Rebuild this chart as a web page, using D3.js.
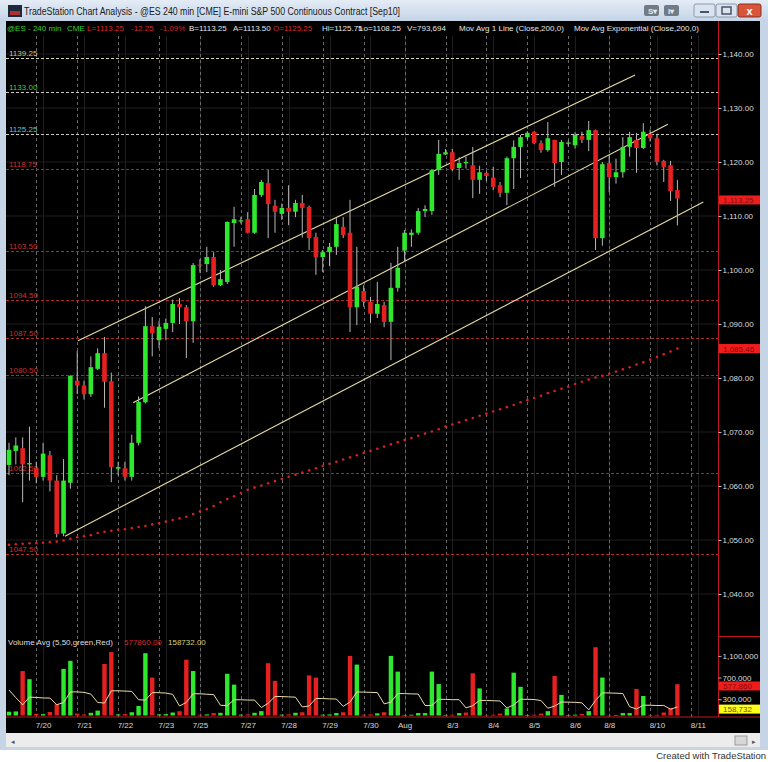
<!DOCTYPE html>
<html><head><meta charset="utf-8">
<script src="https://cdn.jsdelivr.net/npm/d3@7"></script>
<style>
body{margin:0;background:#fff;}
svg{display:block;font-family:"Liberation Sans",Arial,sans-serif;}
</style></head><body>
<svg id="c" width="768" height="762"></svg>
<script>
// ---------------- DATA ----------------
const opens  = [1063.9,1066.5,1067,1064,1063.3,1061.7,1065.7,1061,1051.2,1060.6,
 1079.5,1078.6,1077,1081.7,1084.6,1079.4,1063.2,1063.3,1061.7,1068,
 1075.5,1089.6,1087,1089.1,1090.2,1093.7,1093.1,1090.5,1101,1101.1,
 1102.4,1097.2,1097.8,1108.7,1109.1,1109.4,1106.9,1113.9,1116.1,1111.9,
 1110.4,1111.5,1110.8,1112.4,1111.7,1106.1,1102.4,1103.3,1104.3,1108,
 1106.9,1093.1,1096.1,1094.1,1091.9,1093.5,1090.4,1096.7,1103.6,1106.5,
 1106.9,1110.9,1110.9,1118.5,1121.4,1121.8,1118.9,1119.8,1119.4,1116.7,
 1118,1117.1,1115.7,1114.3,1120.7,1122.8,1124.6,1125.6,1123.5,1122.2,
 1124.1,1120,1123.5,1123.1,1124.8,1124.1,1125.9,1105.9,1119.8,1117.2,
 1118.1,1122.8,1124.1,1122.6,1125.2,1124.4,1120.2,1119.4,1114.8];
const highs  = [1068,1069,1069,1071,1064.5,1068,1066.5,1062,1065,1080.5,
 1085,1079.5,1084,1085.5,1087.6,1081,1064.5,1064.5,1069.5,1076.6,
 1093.3,1091.3,1090.6,1091,1094.5,1094.8,1093.5,1101.3,1102,1104.3,
 1103.3,1100,1109,1111.7,1109.8,1110.7,1115,1116.7,1118.5,1113,
 1112.3,1115.7,1113,1113.9,1111.9,1106.9,1103.7,1105,1109.6,1109.8,
 1113,1104.3,1097.2,1095,1097.8,1094.1,1101.3,1104.3,1107.4,1107.5,
 1111.5,1112,1118.6,1124.1,1122.4,1122.4,1120.9,1121,1122.8,1119.3,
 1118.3,1119.1,1116.3,1121,1124,1125,1125.7,1125.7,1124,1127.4,
 1124.1,1124.1,1124,1125.5,1125.6,1127.6,1126,1120,1121.3,1120.6,
 1124.6,1125.6,1125.4,1127.2,1126,1125,1120.4,1120.2,1116.7];
const lows   = [1062,1064,1057,1061,1060.5,1061,1059,1050.5,1050.7,1059.5,
 1077,1076,1076.5,1081.5,1074.5,1060.7,1062,1061,1061,1067.5,
 1075.3,1084,1085.5,1087,1088.5,1090,1083.7,1086.5,1099.5,1099.6,
 1096.9,1097,1097.4,1104.3,1108.6,1106.8,1106.7,1113.5,1105.9,1106.9,
 1109.3,1108.3,1109.8,1106,1103.7,1099.1,1099.6,1100.7,1102.8,1105.9,
 1088.5,1089.8,1093.2,1090.2,1091.1,1089.4,1083.3,1096,1101.5,1104.3,
 1106.5,1109.8,1110.2,1117.6,1121.3,1118.3,1116.7,1118.8,1113.3,1114.1,
 1116.5,1114.8,1113.5,1112,1115,1117,1124.2,1123.3,1121.7,1121.9,
 1115.4,1117.6,1122.9,1122.5,1123.5,1122,1103.7,1104.5,1114.4,1116,
 1117.1,1121,1118,1122.4,1123.8,1119.4,1116.3,1112.8,1108.25];
const closes = [1066.7,1067.5,1064,1064.25,1061.7,1066,1061,1051.1,1061,1080.4,
 1078.6,1077,1082,1084.6,1079.3,1063.5,1063.5,1061.7,1068,1075.6,
 1089.6,1088.3,1089.5,1090.2,1093.7,1093.1,1090.5,1100.9,1100.8,1102.4,
 1097.2,1098.3,1108.9,1109.4,1109.2,1106.9,1113.9,1116.3,1112.2,1110.8,
 1111.5,1110.8,1112.4,1111.5,1105.9,1102.4,1103.3,1104.3,1108.5,1106.5,
 1093.1,1096.9,1094.1,1091.9,1093.7,1090.4,1096.7,1100.4,1106.9,1106.9,
 1110.9,1111.3,1118.5,1121.5,1121.8,1118.7,1119.8,1120,1116.7,1118.1,
 1117.4,1115.4,1114.3,1120.7,1122.8,1124.6,1125.4,1123.5,1122.2,1124.4,
 1119.8,1123.7,1123.6,1125,1124.1,1125.9,1105.9,1119.6,1117.2,1118.1,
 1122.8,1124.6,1122.6,1125.6,1124.4,1120,1119.1,1114.6,1113.25];

const emaValues = [1049.1,1049.2,1049.3,1049.4,1049.4,1049.5,1049.6,1049.7,1049.9,1050.2,
 1050.5,1050.7,1050.9,1051.3,1051.5,1051.7,1051.9,1052.0,1052.2,1052.4,
 1052.6,1052.9,1053.1,1053.4,1053.7,1054.0,1054.3,1054.8,1055.3,1055.7,
 1056.3,1057.0,1057.6,1058.1,1058.7,1059.3,1059.7,1060.1,1060.5,1060.9,
 1061.3,1061.7,1062.1,1062.5,1062.9,1063.3,1063.7,1064.1,1064.5,1064.9,
 1065.3,1065.7,1066.1,1066.5,1066.9,1067.3,1067.7,1068.1,1068.5,1068.9,
 1069.3,1069.7,1070.1,1070.5,1071.0,1071.4,1071.8,1072.2,1072.6,1073.0,
 1073.4,1073.8,1074.2,1074.6,1075.0,1075.5,1075.9,1076.3,1076.7,1077.2,
 1077.6,1078.0,1078.4,1078.9,1079.3,1079.7,1080.1,1080.4,1080.8,1081.2,
 1081.6,1082.0,1082.5,1082.9,1083.4,1083.9,1084.4,1084.9,1085.46];

const volumes = [70000,75000,820000,670000,30000,25000,65000,210000,860000,1010000,
 35000,20000,50000,90000,950000,1170000,20000,25000,60000,175000,
 1150000,700000,20000,25000,55000,80000,1030000,820000,15000,20000,
 45000,50000,770000,570000,15000,20000,50000,80000,965000,640000,
 15000,20000,50000,60000,740000,700000,15000,20000,45000,60000,
 1100000,940000,15000,20000,40000,60000,1100000,810000,10000,15000,
 45000,45000,810000,580000,10000,15000,45000,55000,780000,500000,
 10000,15000,35000,130000,790000,530000,10000,15000,35000,80000,
 730000,380000,10000,15000,30000,80000,1260000,700000,10000,10000,
 45000,45000,490000,360000,12000,12000,55000,135000,577860];
const volumeUp = [1,1,0,1,0,1,0,0,1,1, 0,0,1,1,0,0,1,0,1,1, 1,0,1,1,1,0,0,1,0,1,
 0,1,1,1,1,0,1,1,0,0, 1,0,1,0,0,0,1,1,1,0, 0,1,0,0,1,0,1,1,1,1,
 1,1,1,1,1,0,1,0,0,1, 0,0,0,1,1,1,1,0,0,1, 0,1,1,1,0,1,0,1,0,1,
 1,1,0,1,0,0,0,0,0];
const volumeAvg = [470000,330000,195000,340000,333000,324000,322000,200000,238000,434000,
 436000,427000,395000,241000,229000,456000,456000,451000,445000,290000,
 286000,422000,421000,414000,390000,176000,242000,402000,400000,393000,
 386000,190000,180000,291000,290000,285000,285000,147000,226000,351000,
 350000,344000,338000,157000,177000,314000,313000,307000,304000,168000,
 248000,433000,432000,427000,423000,215000,247000,406000,404000,399000,
 396000,185000,185000,299000,298000,292000,292000,141000,181000,279000,
 278000,272000,268000,138000,196000,300000,299000,295000,276000,134000,
 174000,248000,247000,243000,233000,103000,279000,417000,416000,412000,
 405000,162000,120000,190000,190000,184000,186000,115000,158732];

const dateLabels = ["7/20","7/21","7/22","7/23","7/25","7/27","7/28","7/29","7/30","Aug","8/3","8/4","8/5","8/6","8/8","8/10","8/11"];
const dateBarIndex = [5,11,17,23,28,35,41,47,53,58,65,71,77,83,88,95,101];
const gridBarIndex = [4,10,16,22,28,34,40,46,52,58,64,70,76,82,88,94,100];

const levelPrices = [1139.25,1133.00,1125.25,1118.75,1103.50,1094.50,1087.50,1080.50,1062.50,1047.50];
const levelKinds  = ["khaki","green","cyan","red","red","red","red","red","red","red"];

const priceTicks = [1040,1050,1060,1070,1080,1090,1100,1110,1120,1130,1140];
const volumeTicks = [300000,700000,1100000];

// channel lines: [bar index, price] endpoints
const channelStartIdx = [10.1, 18.2, 8.2];
const channelStartPx  = [1086.9, 1075.4, 1050.7];
const channelEndIdx   = [91.8, 96.6, 101.8];
const channelEndPx    = [1136.1, 1127.0, 1112.6];

const lastClose = 1113.25, lastEma = 1085.46, lastVolume = 577860, lastVolAvg = 158732;

// ---------------- DRAW ----------------
const svg = d3.select("#c");
const defs = svg.append("defs");
const g1 = defs.append("linearGradient").attr("id","tb").attr("x1",0).attr("y1",0).attr("x2",0).attr("y2",1);
g1.append("stop").attr("offset","0").attr("stop-color","#e4ecf6");
g1.append("stop").attr("offset","1").attr("stop-color","#c4d4e7");
defs.append("clipPath").attr("id","plotClip").append("rect").attr("x",6).attr("y",36).attr("width",712).attr("height",681);

svg.append("rect").attr("width",768).attr("height",762).attr("fill","#fff");
svg.append("rect").attr("x",0).attr("y",0).attr("width",768).attr("height",750).attr("fill","#c6d5e6");
svg.append("rect").attr("x",0).attr("y",0).attr("width",768).attr("height",21).attr("fill","url(#tb)");
// icon
svg.append("rect").attr("x",8).attr("y",5).attr("width",14).attr("height",12).attr("fill","#1c2a3c");
svg.append("rect").attr("x",10).attr("y",11).attr("width",10).attr("height",4).attr("fill","#b03030");
svg.append("text").attr("x",24).attr("y",15).attr("font-size",10).attr("fill","#1a1a1a")
  .attr("textLength",376).attr("lengthAdjust","spacingAndGlyphs")
  .text("TradeStation Chart Analysis - @ES 240 min [CME] E-mini S&P 500 Continuous Contract [Sep10]");
// buttons
[[644,"S"],[664,"I"]].forEach(([bx,t])=>{
  svg.append("rect").attr("x",bx).attr("y",5).attr("width",15).attr("height",11).attr("rx",2).attr("fill","#6f7c88");
  svg.append("text").attr("x",bx+4).attr("y",14).attr("font-size",8).attr("font-weight","bold").attr("fill","#e8e8e8").text(t+"▾");
});
svg.append("rect").attr("x",694).attr("y",4).attr("width",21).attr("height",13).attr("rx",2).attr("fill","#dbe4ee").attr("stroke","#8a9ab0");
svg.append("rect").attr("x",700).attr("y",11).attr("width",9).attr("height",2).attr("fill","#44556a");
svg.append("rect").attr("x",716).attr("y",4).attr("width",21).attr("height",13).attr("rx",2).attr("fill","#dbe4ee").attr("stroke","#8a9ab0");
svg.append("rect").attr("x",722).attr("y",7).attr("width",9).attr("height",7).attr("fill","none").attr("stroke","#44556a").attr("stroke-width",1.5);
svg.append("rect").attr("x",738).attr("y",4).attr("width",23).attr("height",13).attr("rx",2).attr("fill","#d8553a").attr("stroke","#8a3020");
svg.append("text").attr("x",749.5).attr("y",14.5).attr("text-anchor","middle").attr("font-size",11).attr("font-weight","bold").attr("fill","#fff").text("x");

// black area
svg.append("rect").attr("x",6).attr("y",21).attr("width",754).attr("height",712).attr("fill","#000");
// scrollbar
svg.append("rect").attr("x",6).attr("y",733).attr("width",754).attr("height",14).attr("fill","#ececec");
svg.append("text").attr("x",11).attr("y",744).attr("font-size",7).attr("fill","#555").text("◂");
svg.append("rect").attr("x",735).attr("y",736).attr("width",12).attr("height",9).attr("fill","#d6d6d6").attr("stroke","#9a9a9a");
svg.append("text").attr("x",752).attr("y",744).attr("font-size",7).attr("fill","#555").text("▸");
svg.append("text").attr("x",766).attr("y",759).attr("text-anchor","end").attr("font-size",9.5).attr("fill","#333").text("Created with TradeStation");

// scales
const xs = d3.scaleLinear().domain([0,103]).range([9, 711.5]);
const yp = d3.scaleLinear().domain([1040,1140]).range([594,54]);
const yv = d3.scaleLinear().domain([0,1100000]).range([715.5,655.9]);

const plot = svg.append("g").attr("clip-path","url(#plotClip)");

// faint grid
plot.selectAll(".hg").data(priceTicks).join("line").attr("x1",6).attr("x2",718)
  .attr("y1",d=>yp(d)).attr("y2",d=>yp(d)).attr("stroke","#1e1e1e").attr("stroke-width",1);
plot.selectAll(".dg").data(dateBarIndex).join("line").attr("y1",36).attr("y2",717)
  .attr("x1",d=>Math.round(xs(d))+0.5).attr("x2",d=>Math.round(xs(d))+0.5).attr("stroke","#1e1e1e");
plot.selectAll(".vg").data(gridBarIndex).join("line").attr("y1",36).attr("y2",717)
  .attr("x1",d=>Math.round(xs(d))+0.5).attr("x2",d=>Math.round(xs(d))+0.5)
  .attr("stroke","#6a6a6a").attr("stroke-dasharray","3,3").attr("stroke-width",1);

// level lines
const lineCol = {khaki:"#d8d4b0",green:"#c8c8c8",cyan:"#c8c8c8",red:"#a82a2a"};
const textCol = {khaki:"#cfc57a",green:"#3fcf3f",cyan:"#5fc8c8",red:"#c83030"};
levelPrices.forEach((p,i)=>{
  const y = Math.round(yp(p))+0.5;
  plot.append("line").attr("x1",6).attr("x2",718).attr("y1",y).attr("y2",y)
    .attr("stroke",lineCol[levelKinds[i]]).attr("stroke-dasharray","3,2").attr("stroke-width",1);
  plot.append("text").attr("x",9).attr("y",y-2.5).attr("font-size",8).attr("fill",textCol[levelKinds[i]]).text(p.toFixed(2));
});

// EMA dots
plot.selectAll(".ema").data(emaValues).join("circle").attr("cx",(d,i)=>xs(i)).attr("cy",d=>yp(d))
  .attr("r",1.3).attr("fill","#d42222");

// channel lines
channelStartIdx.forEach((s,i)=>{
  plot.append("line").attr("x1",xs(s)).attr("y1",yp(channelStartPx[i])).attr("x2",xs(channelEndIdx[i])).attr("y2",yp(channelEndPx[i]))
    .attr("stroke","#e6dca6").attr("stroke-width",1.1);
});

// candles
const bw = 4.6;
const candles = plot.append("g");
opens.forEach((o,i)=>{
  const c = closes[i], up = c >= o;
  const cx = xs(i);
  candles.append("line").attr("x1",cx).attr("x2",cx).attr("y1",yp(highs[i])).attr("y2",yp(lows[i]))
    .attr("stroke","#b8b8b8").attr("stroke-width",1);
  const top = yp(Math.max(o,c)), bot = yp(Math.min(o,c));
  candles.append("rect").attr("x",cx-bw/2).attr("y",top).attr("width",bw).attr("height",Math.max(1.2,bot-top))
    .attr("fill",up?"#2ee82e":"#e42020");
});

// volume pane
plot.selectAll(".vb").data(volumes).join("rect")
  .attr("x",(d,i)=>xs(i)-2.2).attr("width",4.4)
  .attr("y",d=>yv(d)).attr("height",d=>yv(0)-yv(d))
  .attr("fill",(d,i)=>volumeUp[i]?"#2ee82e":"#e42020");
plot.append("path").datum(volumeAvg).attr("d",d3.line().x((d,i)=>xs(i)).y(d=>yv(d)))
  .attr("fill","none").attr("stroke","#e8dcaa").attr("stroke-width",1);

// borders (red)
svg.append("line").attr("x1",718.5).attr("x2",718.5).attr("y1",21).attr("y2",717).attr("stroke","#c01818");
svg.append("line").attr("x1",6).attr("x2",760).attr("y1",717).attr("y2",717).attr("stroke","#c01818");
svg.append("line").attr("x1",718).attr("x2",760).attr("y1",636.5).attr("y2",636.5).attr("stroke","#c01818");

// price axis
const pAxis = svg.append("g").attr("transform","translate(718.5,0)")
  .call(d3.axisRight(yp).tickValues(priceTicks).tickFormat(d3.format(",.2f")).tickSize(3));
pAxis.select(".domain").remove();
pAxis.selectAll("line").attr("stroke","#bbb");
pAxis.selectAll("text").attr("fill","#dedede").attr("font-size",8).attr("x",4).attr("font-family","Liberation Sans, Arial");

// volume axis
const vAxis = svg.append("g").attr("transform","translate(718.5,0)")
  .call(d3.axisRight(yv).tickValues(volumeTicks).tickFormat(d3.format(",")).tickSize(3));
vAxis.select(".domain").remove();
vAxis.selectAll("line").attr("stroke","#bbb");
vAxis.selectAll("text").attr("fill","#dedede").attr("font-size",8).attr("x",4).attr("font-family","Liberation Sans, Arial");

// badges
function badge(y, txt, bg, fg){
  svg.append("rect").attr("x",719).attr("y",y-4.5).attr("width",41).attr("height",9).attr("fill",bg);
  svg.append("text").attr("x",723).attr("y",y+3).attr("font-size",8).attr("fill",fg).text(txt);
}
badge(yp(lastClose)+1.5, d3.format(",.2f")(lastClose), "#ee1c1c", "#8a0a0a");
badge(yp(lastEma), d3.format(",.2f")(lastEma), "#ee1c1c", "#8a0a0a");
badge(yv(lastVolume)+1.8, d3.format(",")(lastVolume), "#ee1c1c", "#8a0a0a");
badge(yv(lastVolAvg)+2.2, d3.format(",")(lastVolAvg), "#ffff1a", "#5a5a00");

// date axis
const dAxis = svg.append("g").attr("transform","translate(0,718)")
  .call(d3.axisBottom(xs).tickValues(dateBarIndex).tickFormat((d,i)=>dateLabels[i]).tickSize(0));
dAxis.select(".domain").remove();
dAxis.selectAll("text").attr("fill","#d8d8d8").attr("font-size",8).attr("dy","0.9em").attr("font-family","Liberation Sans, Arial");

// header
const hdr = [
  [7,"@ES - 240 min","#2fd02f"],[67,"CME","#2fd02f"],[87,"L=1113.25","#d42a2a"],[131,"-12.25","#d42a2a"],
  [160,"-1.09%","#d42a2a"],[189,"B=1113.25","#e6e6e6"],[233,"A=1113.50","#e6e6e6"],[273,"O=1125.25","#d42a2a"],
  [322,"Hi=1125.75","#e6e6e6"],[359,"Lo=1108.25","#e6e6e6"],[407,"V=793,694","#e6e6e6"],
  [459,"Mov Avg 1 Line (Close,200,0)","#e6e6e6"],[574,"Mov Avg Exponential (Close,200,0)","#e6e6e6"]
];
hdr.forEach(([hx,t,c])=>svg.append("text").attr("x",hx).attr("y",31).attr("font-size",8).attr("fill",c).text(t));

// volume header
svg.append("text").attr("x",8).attr("y",645).attr("font-size",8).attr("fill","#dedede").text("Volume Avg (5,50,green,Red)");
svg.append("text").attr("x",124).attr("y",645).attr("font-size",8).attr("fill","#d42a2a").text(d3.format(".2f")(lastVolume));
svg.append("text").attr("x",168).attr("y",645).attr("font-size",8).attr("fill","#d8d070").text(d3.format(".2f")(lastVolAvg));
</script>
</body></html>
